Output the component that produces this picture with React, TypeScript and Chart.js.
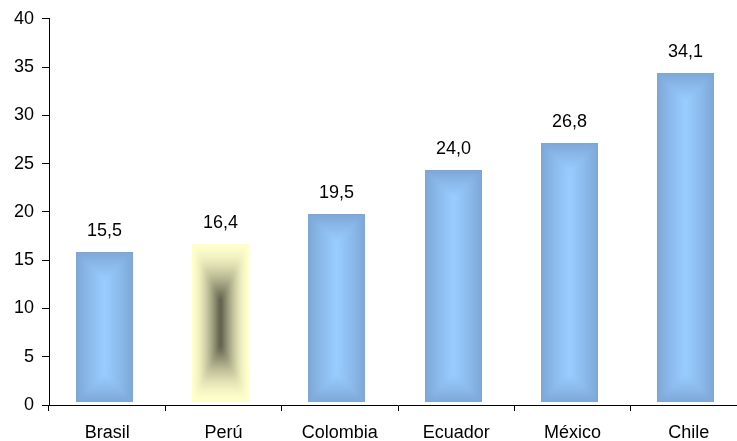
import React, { useEffect, useRef } from "react";
import { Chart, registerables } from "chart.js";

Chart.register(...registerables);

// Chart data
const countries = ["Brasil", "Perú", "Colombia", "Ecuador", "México", "Chile"];
const values = [15.5, 16.4, 19.5, 24.0, 26.8, 34.1];
const highlighted = ["Perú"];
const yMin = 0;
const yMax = 40;
const yStep = 5;

// Bar fill colours (edge -> centre, "from centre" shading)
const blueEdge = [124, 166, 214];
const blueCentre = [153, 204, 255];
const yellowEdge = [255, 255, 204];
const darkCentre = [98, 98, 78];

const FONT = "'Liberation Sans', Arial, sans-serif";
// Bars sit slightly up and to the left of their slot
const BAR_LIFT = 3;
const BAR_SHIFT = 3;

// Smooth maximum so the corner creases of the shading stay soft
function softMax(a: number, b: number, k: number) {
  const m = Math.max(a, b);
  return m + k * Math.log(Math.exp((a - m) / k) + Math.exp((b - m) / k));
}

// core: 0 = contours scale with the bar, 1 = contours keep an even inset
function shadedBar(
  w: number,
  h: number,
  edge: number[],
  centre: number[],
  gamma: number,
  core: number,
  soft: number
) {
  const c = document.createElement("canvas");
  c.width = Math.max(1, w);
  c.height = Math.max(1, h);
  const g = c.getContext("2d")!;
  const img = g.createImageData(c.width, c.height);
  const hw = w / 2;
  const hh = h / 2;
  const flat = Math.max(0, hh - hw) * core;
  const span = Math.max(1e-6, hh - flat);
  const top = 1 - soft * Math.log(2);
  for (let j = 0; j < c.height; j++) {
    const ay = Math.abs(j + 0.5 - hh);
    const v = Math.max(0, ay - flat) / span;
    for (let i = 0; i < c.width; i++) {
      const u = Math.abs(i + 0.5 - hw) / hw;
      let d = (1 - softMax(u, v, soft)) / top;
      if (d < 0) d = 0;
      if (d > 1) d = 1;
      const s = Math.pow(d, gamma);
      const k = (j * c.width + i) * 4;
      img.data[k] = edge[0] + (centre[0] - edge[0]) * s;
      img.data[k + 1] = edge[1] + (centre[1] - edge[1]) * s;
      img.data[k + 2] = edge[2] + (centre[2] - edge[2]) * s;
      img.data[k + 3] = 255;
    }
  }
  g.putImageData(img, 0, 0);
  return c;
}

const shadedBarsPlugin = {
  id: "shadedBars",
  afterDatasetsDraw(chart: any) {
    const meta = chart.getDatasetMeta(0);
    const ctx = chart.ctx as CanvasRenderingContext2D;
    ctx.save();
    meta.data.forEach((el: any, i: number) => {
      const { x, y, base, width } = el.getProps(["x", "y", "base", "width"], true);
      const cx = x - BAR_SHIFT;
      const left = Math.round(cx - width / 2);
      const w = Math.round(width);
      const top = Math.round(y);
      const h = Math.round(base) - top;
      const isHi = highlighted.includes(countries[i]);
      const img = isHi
        ? shadedBar(w, h, yellowEdge, darkCentre, 1.7, 0.45, 0.06)
        : shadedBar(w, h, blueEdge, blueCentre, 0.9, 1, 0.05);
      ctx.drawImage(img, left, top - BAR_LIFT);

      ctx.fillStyle = "#000";
      ctx.font = `18px ${FONT}`;
      ctx.textAlign = "center";
      ctx.textBaseline = "middle";
      ctx.fillText(values[i].toFixed(1).replace(".", ","), left + w / 2, top - BAR_LIFT - 21);
    });
    ctx.restore();
  },
};

export default function App() {
  const ref = useRef<HTMLCanvasElement | null>(null);

  useEffect(() => {
    document.body.style.margin = "0";
    const chart = new Chart(ref.current!, {
      type: "bar",
      data: {
        labels: countries,
        datasets: [
          {
            data: values,
            backgroundColor: "rgba(0,0,0,0)",
            borderWidth: 0,
            barPercentage: 0.49,
            categoryPercentage: 1,
          },
        ],
      },
      options: {
        responsive: false,
        animation: false,
        events: [],
        layout: { padding: { top: 18, left: 0, right: 0, bottom: 0 } },
        plugins: {
          legend: { display: false },
          tooltip: { enabled: false },
        },
        scales: {
          x: {
            grid: {
              display: true,
              drawOnChartArea: false,
              drawTicks: true,
              tickLength: 6,
              color: "#000",
              offset: true,
            },
            border: { display: true, color: "#000", width: 1 },
            ticks: {
              color: "#000",
              font: { family: FONT, size: 18 },
              padding: 11,
              maxRotation: 0,
              autoSkip: false,
            },
            afterFit(scale: any) {
              scale.height = 36;
            },
          },
          y: {
            min: yMin,
            max: yMax,
            grid: {
              display: true,
              drawOnChartArea: false,
              drawTicks: true,
              tickLength: 7,
              color: "#000",
            },
            border: { display: true, color: "#000", width: 1 },
            ticks: {
              stepSize: yStep,
              color: "#000",
              font: { family: FONT, size: 18 },
              padding: 8,
            },
            afterFit(scale: any) {
              scale.width = 49;
            },
          },
        },
      },
      plugins: [shadedBarsPlugin],
    });
    return () => chart.destroy();
  }, []);

  return (
    <div
      style={{
        position: "fixed",
        left: 0,
        top: 0,
        width: 737,
        height: 441,
        overflow: "hidden",
        background: "#fff",
      }}
    >
      <canvas ref={ref} width={747} height={441} style={{ display: "block" }} />
    </div>
  );
}
